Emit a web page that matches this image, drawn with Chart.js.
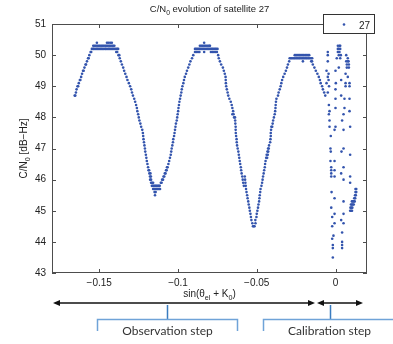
<!DOCTYPE html>
<html>
<head>
<meta charset="UTF-8">
<title>C/N0 evolution of satellite 27</title>
<style>
  body { margin: 0; background: #ffffff; }
  #wrap { width: 393px; height: 344px; }
</style>
</head>
<body>
<div id="wrap"><canvas id="cn0Chart" width="393" height="344"></canvas></div>

<script src="https://cdn.jsdelivr.net/npm/chart.js"></script>
<script>
// [sin(theta_el + K0), C/N0 in dB-Hz]
const arc1 = [
  [-.1656,48.7],[-.1652,48.7],[-.1648,48.8],[-.1644,48.9],[-.1638,49.0],[-.1634,49.0],[-.1630,49.1],[-.1623,49.2],[-.1620,49.2],
  [-.1615,49.3],[-.1609,49.4],[-.1603,49.5],[-.1599,49.5],[-.1594,49.6],[-.1587,49.7],[-.1584,49.7],[-.1578,49.8],[-.1571,49.9],
  [-.1567,49.9],[-.1563,50.0],[-.1555,50.1],[-.1551,50.1],
  [-.1547,50.2],[-.1539,50.2],[-.1532,50.2],[-.1522,50.2],[-.1514,50.2],[-.1506,50.2],[-.1497,50.2],[-.1489,50.2],[-.1481,50.2],
  [-.1472,50.2],[-.1463,50.2],[-.1456,50.2],[-.1446,50.2],[-.1438,50.2],[-.1430,50.2],[-.1421,50.2],[-.1413,50.2],[-.1405,50.2],
  [-.1396,50.2],[-.1387,50.2],[-.1380,50.2],
  [-.1538,50.3],[-.1530,50.3],[-.1522,50.3],[-.1513,50.3],[-.1504,50.3],[-.1496,50.3],[-.1487,50.3],[-.1479,50.3],[-.1471,50.3],
  [-.1462,50.3],[-.1454,50.3],[-.1446,50.3],[-.1437,50.3],[-.1429,50.3],[-.1420,50.3],[-.1412,50.3],[-.1404,50.3],
  [-.1515,50.4],[-.1451,50.4],[-.1441,50.4],[-.1430,50.4],[-.1420,50.4],
  [-.1392,50.1],[-.1386,50.1],[-.1378,50.0],[-.1373,50.0],[-.1370,49.9],[-.1363,49.8],[-.1356,49.7],[-.1348,49.6],[-.1342,49.5],
  [-.1335,49.4],[-.1327,49.3],[-.1321,49.2],[-.1312,49.1],[-.1304,49.0],[-.1297,48.9],[-.1292,48.8],[-.1286,48.7],[-.1278,48.6],
  [-.1272,48.5],[-.1266,48.4],[-.1261,48.3],[-.1258,48.2],[-.1253,48.1],[-.1249,48.0],[-.1245,47.9],[-.1239,47.8],[-.1234,47.7],
  [-.1227,47.6],[-.1223,47.5],[-.1221,47.4],[-.1219,47.3],[-.1216,47.2],[-.1213,47.1],[-.1210,47.0],[-.1208,46.9],[-.1204,46.8],
  [-.1201,46.7],[-.1198,46.6],[-.1194,46.5],[-.1190,46.4],[-.1187,46.3],[-.1183,46.3],[-.1182,46.2],[-.1175,46.2],[-.1178,46.1],
  [-.1172,46.1],[-.1177,46.0],[-.1171,46.0],[-.1171,45.9],[-.1165,45.9],[-.1158,45.9],
  [-.1166,45.8],[-.1160,45.8],[-.1154,45.8],[-.1147,45.8],[-.1141,45.8],[-.1135,45.8],[-.1128,45.8],[-.1122,45.8],[-.1116,45.8],
  [-.1158,45.7],[-.1152,45.7],[-.1146,45.7],[-.1139,45.7],[-.1133,45.7],[-.1127,45.7],[-.1120,45.7],[-.1114,45.7],
  [-.1149,45.6],[-.1142,45.6],[-.1146,45.5],[-.1109,45.9],[-.1104,45.9]
];

const arc2 = [
  [-.1101,46.0],[-.1095,46.0],[-.1092,46.1],[-.1087,46.1],[-.1084,46.2],[-.1079,46.2],[-.1076,46.3],[-.1072,46.3],[-.1070,46.4],
  [-.1066,46.4],[-.1061,46.5],[-.1056,46.6],[-.1051,46.7],[-.1046,46.8],[-.1043,46.9],[-.1040,47.0],[-.1036,47.1],[-.1032,47.2],
  [-.1030,47.3],[-.1025,47.4],[-.1022,47.5],[-.1019,47.6],[-.1016,47.7],[-.1013,47.8],[-.1008,47.9],[-.1005,48.0],[-.1002,48.1],
  [-.0999,48.2],[-.0997,48.3],[-.0994,48.4],[-.0991,48.5],[-.0987,48.6],[-.0983,48.7],[-.0979,48.8],[-.0976,48.9],[-.0972,49.0],
  [-.0966,49.1],[-.0962,49.2],[-.0957,49.3],[-.0949,49.4],[-.0943,49.5],[-.0935,49.6],[-.0928,49.7],[-.0921,49.8],[-.0911,49.9],
  [-.0903,50.0],
  [-.0892,50.1],[-.0883,50.1],[-.0873,50.1],[-.0864,50.1],[-.0834,50.1],[-.0791,50.1],[-.0782,50.1],[-.0772,50.1],[-.0763,50.1],
  [-.0753,50.1],
  [-.0892,50.2],[-.0884,50.2],[-.0876,50.2],[-.0867,50.2],[-.0859,50.2],[-.0851,50.2],[-.0842,50.2],[-.0834,50.2],[-.0825,50.2],
  [-.0816,50.2],[-.0808,50.2],[-.0800,50.2],[-.0791,50.2],[-.0783,50.2],[-.0775,50.2],[-.0766,50.2],[-.0758,50.2],[-.0749,50.2],
  [-.0861,50.3],[-.0852,50.3],[-.0844,50.3],[-.0835,50.3],[-.0827,50.3],[-.0819,50.3],[-.0810,50.3],[-.0802,50.3],[-.0797,50.3],
  [-.0834,50.4],
  [-.0745,50.0],[-.0741,49.9],[-.0734,49.8],[-.0726,49.7],[-.0715,49.6],[-.0709,49.5],[-.0703,49.4],[-.0698,49.3],[-.0697,49.2],
  [-.0696,49.1],[-.0694,49.0],[-.0690,48.9],[-.0685,48.8],[-.0681,48.7],[-.0674,48.6],[-.0665,48.5],[-.0659,48.4],[-.0655,48.3],
  [-.0650,48.2],[-.0655,48.1],[-.0647,48.1],[-.0644,48.0],[-.0638,48.0],[-.0637,47.9],[-.0636,47.8],[-.0634,47.7],[-.0634,47.6],
  [-.0633,47.5],[-.0631,47.4],[-.0628,47.3],[-.0627,47.2],[-.0625,47.1],[-.0621,47.0],[-.0617,46.9],[-.0614,46.8],[-.0611,46.7],
  [-.0608,46.6],[-.0605,46.5],[-.0601,46.4],[-.0599,46.3],[-.0596,46.2],[-.0592,46.1],[-.0576,46.1],[-.0589,46.0],[-.0574,46.0],
  [-.0586,45.9],[-.0572,45.9],[-.0582,45.8],[-.0570,45.8],[-.0568,45.7],[-.0565,45.6],[-.0561,45.5],[-.0558,45.4],[-.0554,45.3],
  [-.0551,45.2],[-.0547,45.1],[-.0544,45.0],[-.0540,44.9],[-.0537,44.8],[-.0534,44.7],[-.0509,44.7],[-.0528,44.6],[-.0508,44.6],
  [-.0524,44.5],[-.0519,44.5],[-.0514,44.5]
];

const arc3 = [
  [-.0502,44.8],[-.0500,44.9],[-.0496,45.0],[-.0492,45.1],[-.0489,45.2],[-.0485,45.3],[-.0483,45.4],[-.0481,45.5],[-.0478,45.6],
  [-.0476,45.7],[-.0470,45.8],[-.0466,45.9],[-.0463,46.0],[-.0460,46.1],[-.0456,46.2],[-.0453,46.3],[-.0449,46.4],[-.0447,46.5],
  [-.0444,46.6],[-.0440,46.7],[-.0434,46.7],[-.0437,46.8],[-.0430,46.8],[-.0432,46.9],[-.0427,46.9],[-.0428,47.0],[-.0424,47.0],
  [-.0422,47.1],[-.0415,47.2],[-.0413,47.3],[-.0411,47.4],[-.0411,47.5],[-.0409,47.6],[-.0407,47.7],[-.0402,47.7],[-.0399,47.8],
  [-.0396,47.9],[-.0391,48.0],[-.0386,48.1],[-.0383,48.2],[-.0381,48.3],[-.0380,48.4],[-.0378,48.5],[-.0375,48.6],[-.0365,48.7],
  [-.0361,48.8],[-.0354,48.9],[-.0348,49.0],[-.0344,49.1],[-.0339,49.2],[-.0332,49.3],[-.0323,49.4],[-.0315,49.5],[-.0308,49.6],
  [-.0302,49.7],[-.0294,49.8],
  [-.0291,49.9],[-.0283,49.9],[-.0275,49.9],[-.0266,49.9],[-.0258,49.9],[-.0249,49.9],[-.0241,49.9],[-.0232,49.9],[-.0224,49.9],
  [-.0215,49.9],[-.0207,49.9],[-.0199,49.9],[-.0190,49.9],[-.0182,49.9],[-.0173,49.9],[-.0165,49.9],[-.0156,49.9],[-.0148,49.9],
  [-.0259,50.0],[-.0251,50.0],[-.0243,50.0],[-.0234,50.0],[-.0226,50.0],[-.0218,50.0],[-.0209,50.0],[-.0201,50.0],[-.0192,50.0],
  [-.0184,50.0],[-.0175,50.0],[-.0167,50.0],[-.0207,49.8],
  [-.0154,49.8],[-.0149,49.8],[-.0144,49.7],[-.0134,49.6],[-.0125,49.5],[-.0115,49.4],[-.0106,49.3],[-.0099,49.2],[-.0094,49.1],
  [-.0085,49.0],[-.0080,48.9],[-.0072,48.8],[-.0065,48.7]
];

const calib = [
  [-.0049,50.1],[-.0049,50.0],[-.0049,49.8],[-.0057,49.5],[-.0044,49.4],[-.0049,49.3],[-.0044,49.2],[-.0057,49.1],[-.0041,49.0],
  [-.0049,48.8],[-.0042,48.4],[-.0038,48.2],[-.0042,48.1],[-.0038,47.9],[-.0038,47.7],[-.0030,47.4],[-.0032,47.0],[-.0030,46.9],
  [-.0032,46.6],[-.0027,46.4],[-.0027,46.3],[-.0027,46.2],[-.0027,46.1],[-.0025,45.6],[-.0027,45.1],[-.0021,44.8],[-.0021,44.5],
  [-.0013,44.2],[-.0021,44.1],[-.0017,43.9],[-.0017,43.8],[-.0017,43.5],
  [.0015,50.3],[.0025,50.3],[.0030,50.3],[.0015,50.2],[.0030,50.2],[.0021,50.2],[.0015,50.1],[.0025,50.1],[.0021,50.0],
  [.0034,50.0],[.0008,49.9],[.0030,49.9],[.0021,49.6],[.0000,49.5],[.0036,49.2],[.0002,49.1],[.0000,48.9],[.0036,48.7],
  [.0000,48.6],[.0000,48.3],[.0000,47.7],[-.0006,47.6],[-.0006,46.6],[-.0006,46.3],[-.0006,46.1],[-.0006,45.4],[-.0006,44.9],
  [-.0006,44.6],
  [.0068,50.0],[.0078,49.9],[.0068,49.8],[.0078,49.8],[.0083,49.8],[.0072,49.7],[.0085,49.7],[.0072,49.6],[.0085,49.6],
  [.0064,49.4],[.0078,49.3],[.0064,49.1],[.0089,49.1],[.0064,49.0],[.0089,49.0],[.0057,48.6],[.0089,48.6],[.0057,48.3],
  [.0089,48.2],[.0051,48.1],[.0042,47.9],[.0093,47.7],[.0051,47.6],[.0051,47.0],[.0038,46.9],[.0093,46.8],[.0051,46.4],
  [.0036,46.2],[.0093,46.1],[.0051,46.0],[.0093,45.9],[.0051,45.3],[.0051,44.9],[.0036,44.7],[.0051,44.6],[.0042,44.3],
  [.0042,44.0],[.0042,43.9],[.0042,43.8],
  [.0127,45.7],[.0132,45.7],[.0127,45.6],[.0132,45.6],[.0124,45.5],[.0129,45.5],[.0119,45.4],[.0125,45.4],[.0104,45.3],
  [.0110,45.3],[.0116,45.3],[.0122,45.3],[.0098,45.2],[.0104,45.2],[.0110,45.2],[.0116,45.2],[.0095,45.1],[.0101,45.1],
  [.0107,45.1],[.0093,45.0],[.0099,45.0],[.0105,45.0]
];

const xTickValues = [-0.15, -0.1, -0.05, 0];
const yTickValues = [43, 44, 45, 46, 47, 48, 49, 50, 51];
const seriesName = '27';

const dotColor = '#3354ad';
const axisColor = '#4d4d4d';
const FONT = '"Liberation Sans", Arial, sans-serif';

// draws text with subscript pieces, left-to-right from x (or centred on x)
function drawRich(ctx, parts, x, y, size, centred) {
  let total = 0;
  parts.forEach(p => {
    ctx.font = (p.sub ? size * 0.72 : size) + 'px ' + FONT;
    p.w = ctx.measureText(p.t).width;
    total += p.w;
  });
  let cx = centred ? x - total / 2 : x;
  parts.forEach(p => {
    ctx.font = (p.sub ? size * 0.72 : size) + 'px ' + FONT;
    ctx.fillText(p.t, cx, y + (p.sub ? size * 0.32 : 0));
    cx += p.w;
  });
}

function arrowHead(ctx, x, y, dir) {
  ctx.beginPath();
  ctx.moveTo(x, y);
  ctx.lineTo(x - dir * 7, y - 3);
  ctx.lineTo(x - dir * 7, y + 3);
  ctx.closePath();
  ctx.fill();
}

function doubleArrow(ctx, x1, x2, y) {
  ctx.beginPath();
  ctx.moveTo(x1 + 3, y);
  ctx.lineTo(x2 - 3, y);
  ctx.stroke();
  arrowHead(ctx, x1, y, -1);
  arrowHead(ctx, x2, y, 1);
}

const decorations = {
  id: 'decorations',
  afterDraw(chart) {
    const ctx = chart.ctx;
    const a = chart.chartArea;
    const xs = chart.scales.x, ys = chart.scales.y;
    ctx.save();

    // axes box with inward ticks
    ctx.strokeStyle = axisColor;
    ctx.lineWidth = 1;
    ctx.strokeRect(a.left + 0.5, a.top + 0.5, a.right - a.left - 1, a.bottom - a.top - 1);
    ctx.beginPath();
    yTickValues.forEach(v => {
      const py = Math.round(ys.getPixelForValue(v)) + 0.5;
      ctx.moveTo(a.left, py); ctx.lineTo(a.left + 4, py);
      ctx.moveTo(a.right, py); ctx.lineTo(a.right - 4, py);
    });
    xTickValues.forEach(v => {
      const px = Math.round(xs.getPixelForValue(v)) + 0.5;
      ctx.moveTo(px, a.bottom); ctx.lineTo(px, a.bottom - 4);
      ctx.moveTo(px, a.top); ctx.lineTo(px, a.top + 4);
    });
    ctx.stroke();

    ctx.fillStyle = '#222';
    ctx.textAlign = 'left';
    ctx.textBaseline = 'alphabetic';
    const midX = (a.left + a.right) / 2;

    // title
    drawRich(ctx, [{t: 'C/N'}, {t: '0', sub: true}, {t: ' evolution of satellite 27'}], midX, 12, 9.5, true);

    // x label
    drawRich(ctx, [{t: 'sin(\u03B8'}, {t: 'el', sub: true}, {t: ' + K'}, {t: '0', sub: true}, {t: ')'}], midX, 297, 10, true);

    // y label
    ctx.save();
    ctx.translate(27, (a.top + a.bottom) / 2);
    ctx.rotate(-Math.PI / 2);
    drawRich(ctx, [{t: 'C/N'}, {t: '0', sub: true}, {t: ' [dB\u2212Hz]'}], 0, 0, 10, true);
    ctx.restore();

    // legend
    ctx.fillStyle = '#ffffff';
    ctx.fillRect(323.5, 14.5, 51, 19);
    ctx.strokeStyle = '#333';
    ctx.strokeRect(323.5, 14.5, 51, 19);
    ctx.fillStyle = dotColor;
    ctx.beginPath();
    ctx.arc(344, 24.5, 1.3, 0, Math.PI * 2);
    ctx.fill();
    ctx.fillStyle = '#222';
    ctx.font = '10px ' + FONT;
    ctx.textAlign = 'right';
    ctx.fillText(seriesName, 370, 28.5);

    // step annotations below the axis
    ctx.strokeStyle = '#111';
    ctx.fillStyle = '#111';
    ctx.lineWidth = 1.6;
    doubleArrow(ctx, 53, 315, 303);
    doubleArrow(ctx, 317, 363, 303);

    ctx.lineWidth = 1.5;
    ctx.strokeStyle = '#3a7cc0';
    ctx.beginPath();
    ctx.moveTo(167.5, 305); ctx.lineTo(167.5, 319);
    ctx.moveTo(330.5, 305); ctx.lineTo(330.5, 319);
    ctx.stroke();

    ctx.strokeStyle = '#6fa3d8';
    ctx.beginPath();
    ctx.moveTo(97.5, 331); ctx.lineTo(97.5, 319.5); ctx.lineTo(237.5, 319.5); ctx.lineTo(237.5, 331);
    ctx.moveTo(263.5, 331); ctx.lineTo(263.5, 319.5); ctx.lineTo(395, 319.5);
    ctx.stroke();

    ctx.fillStyle = '#333';
    ctx.font = '12px Lato, "Open Sans", sans-serif';
    ctx.textAlign = 'center';
    ctx.fillText('Observation step', 167.5, 334.5);
    ctx.fillText('Calibration step', 329.5, 334.5);

    ctx.restore();
  }
};

const points = [...arc1, ...arc2, ...arc3, ...calib].map(([x, y]) => ({x, y}));

new Chart(document.getElementById('cn0Chart'), {
  type: 'scatter',
  data: {
    datasets: [{
      label: seriesName,
      data: points,
      pointRadius: 1.3,
      pointHoverRadius: 1.3,
      pointBackgroundColor: dotColor,
      pointBorderWidth: 0,
      showLine: false
    }]
  },
  options: {
    responsive: false,
    devicePixelRatio: 1,
    animation: false,
    layout: { padding: { top: 24, right: 26, bottom: 0, left: 0 } },
    plugins: {
      legend: { display: false },
      title: { display: false },
      tooltip: { enabled: false }
    },
    scales: {
      x: {
        type: 'linear',
        min: -0.18,
        max: 0.02,
        grid: { display: false, drawTicks: false },
        border: { display: false },
        afterBuildTicks: s => { s.ticks = xTickValues.map(v => ({value: v})); },
        afterFit: s => { s.height = 71; },
        ticks: {
          autoSkip: false,
          maxRotation: 0,
          padding: 4,
          color: '#222',
          font: { family: FONT, size: 10 },
          callback: v => v === 0 ? '0' : '\u2212' + Math.abs(v)
        }
      },
      y: {
        min: 43,
        max: 51,
        grid: { display: false, drawTicks: false },
        border: { display: false },
        afterBuildTicks: s => { s.ticks = yTickValues.map(v => ({value: v})); },
        afterFit: s => { s.width = 52; },
        ticks: {
          padding: 6,
          color: '#222',
          font: { family: FONT, size: 10 }
        }
      }
    }
  },
  plugins: [decorations]
});
</script>
</body>
</html>
